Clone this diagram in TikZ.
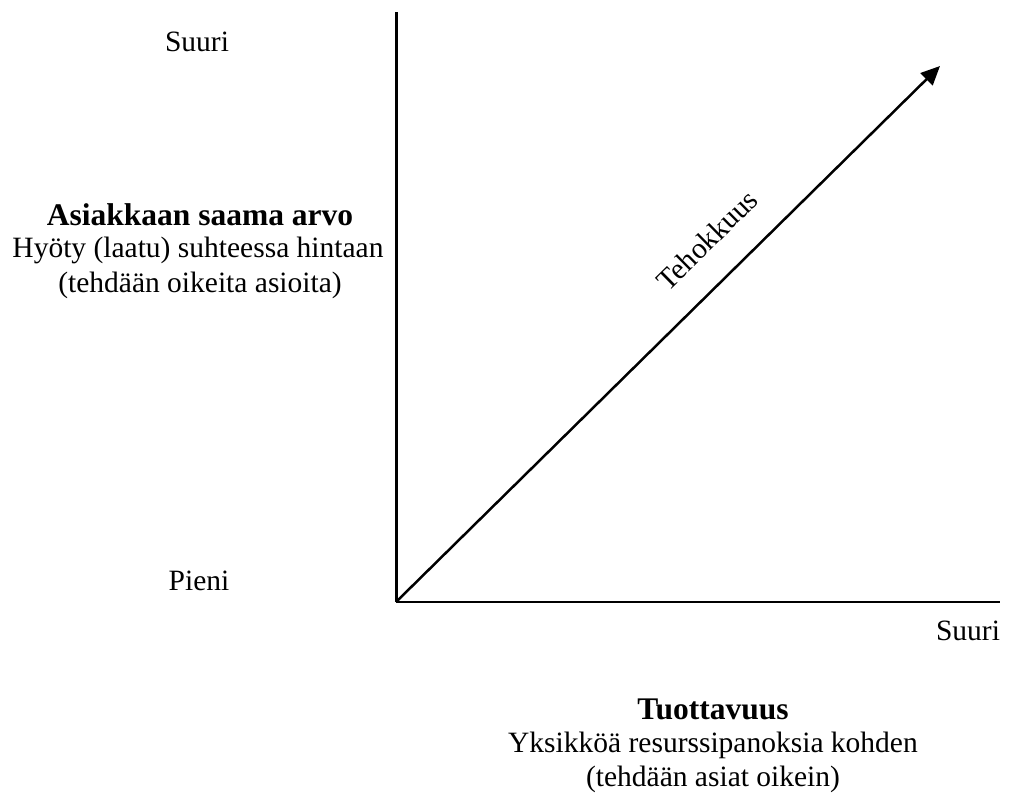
\documentclass[tikz,border=0pt]{standalone}
\usepackage{fontspec}
\setmainfont{Liberation Serif}
\usetikzlibrary{arrows.meta}
\begin{document}
\begin{tikzpicture}[x=1pt,y=-1pt,
  lbl/.style={inner sep=0pt,font=\fontsize{29.5}{34}\selectfont},
  blbl/.style={inner sep=0pt,font=\fontsize{31.5}{36}\selectfont\bfseries},
  diag/.style={line width=2.5pt,-{Triangle[length=19pt,width=17pt]}}]
\useasboundingbox (0,0) rectangle (1023,807);
\coordinate (O) at (396,602);
\coordinate (top) at (396,12);
\coordinate (right) at (1000,602);
\coordinate (tip) at (940,66);
\draw[line width=3pt] (O) -- (top);
\draw[line width=2.3pt] (O) -- (right);
\draw[diag] (O) -- (tip);
\node[lbl] (ys) at (197,42) {Suuri};
\node[blbl] (yt) at (200,215) {Asiakkaan saama arvo};
\node[lbl] (y1) at (198,250) {Hyöty (laatu) suhteessa hintaan};
\node[lbl] (y2) at (200,285) {(tehdään oikeita asioita)};
\node[lbl] (yp) at (199,581) {Pieni};
\node[lbl] (xs) at (968,631) {Suuri};
\node[blbl] (xt) at (713,709) {Tuottavuus};
\node[lbl] (x1) at (713,745) {Yksikköä resurssipanoksia kohden};
\node[lbl] (x2) at (713,779) {(tehdään asiat oikein)};
\node[lbl,rotate=44.5] (teh) at (707,240) {Tehokkuus};
\end{tikzpicture}
\end{document}
